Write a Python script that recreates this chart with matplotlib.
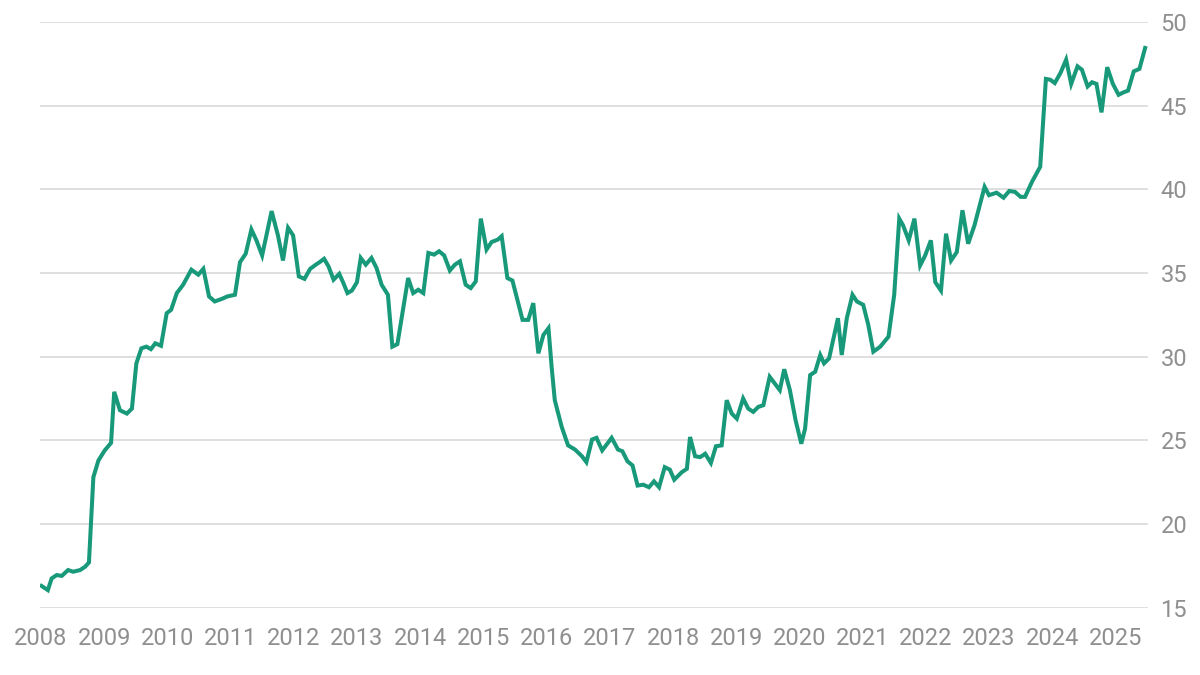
import matplotlib
matplotlib.use("Agg")
import matplotlib.pyplot as plt

# Data (decimal year, value)
years = [
    2008.01, 2008.11, 2008.17, 2008.25, 2008.33, 2008.43, 2008.51, 2008.62, 2008.70, 2008.76,
    2008.83, 2008.91, 2009.01, 2009.11, 2009.16, 2009.25, 2009.36, 2009.44, 2009.51, 2009.59,
    2009.67, 2009.74, 2009.81, 2009.90, 2009.99, 2010.06, 2010.15, 2010.25, 2010.38, 2010.49,
    2010.57, 2010.66, 2010.75, 2010.86, 2010.95, 2011.07, 2011.15, 2011.24, 2011.33, 2011.41,
    2011.50, 2011.65, 2011.75, 2011.83, 2011.91, 2011.99, 2012.08, 2012.17, 2012.26, 2012.35,
    2012.41, 2012.48, 2012.55, 2012.63, 2012.72, 2012.78, 2012.85, 2012.92, 2013.00, 2013.06,
    2013.14, 2013.23, 2013.31, 2013.39, 2013.49, 2013.56, 2013.64, 2013.81, 2013.89, 2013.97,
    2014.05, 2014.13, 2014.22, 2014.30, 2014.38, 2014.47, 2014.55, 2014.63, 2014.72, 2014.80,
    2014.88, 2014.96, 2015.05, 2015.13, 2015.23, 2015.29, 2015.38, 2015.46, 2015.62, 2015.71,
    2015.79, 2015.87, 2015.95, 2016.03, 2016.08, 2016.13, 2016.24, 2016.34, 2016.45, 2016.56,
    2016.63, 2016.72, 2016.79, 2016.88, 2017.03, 2017.13, 2017.20, 2017.28, 2017.36, 2017.44,
    2017.53, 2017.62, 2017.70, 2017.78, 2017.87, 2017.95, 2018.02, 2018.14, 2018.22, 2018.27,
    2018.35, 2018.43, 2018.51, 2018.60, 2018.68, 2018.77, 2018.85, 2018.93, 2019.01, 2019.11,
    2019.19, 2019.27, 2019.35, 2019.43, 2019.53, 2019.61, 2019.69, 2019.76, 2019.85, 2019.94,
    2020.03, 2020.09, 2020.17, 2020.25, 2020.33, 2020.39, 2020.47, 2020.61, 2020.67, 2020.75,
    2020.84, 2020.91, 2021.01, 2021.09, 2021.17, 2021.28, 2021.41, 2021.50, 2021.58, 2021.64,
    2021.73, 2021.82, 2021.91, 2021.99, 2022.08, 2022.15, 2022.24, 2022.32, 2022.40, 2022.49,
    2022.58, 2022.67, 2022.77, 2022.84, 2022.93, 2023.00, 2023.12, 2023.23, 2023.32, 2023.41,
    2023.50, 2023.57, 2023.68, 2023.81, 2023.90, 2023.97, 2024.04, 2024.13, 2024.22, 2024.30,
    2024.40, 2024.47, 2024.56, 2024.63, 2024.70, 2024.78, 2024.87, 2024.96, 2025.05, 2025.13,
    2025.20, 2025.29, 2025.38, 2025.47,
]
values = [
    16.3, 16.05, 16.75, 16.95, 16.9, 17.25, 17.15, 17.25, 17.45, 17.7,
    22.8, 23.8, 24.4, 24.85, 27.9, 26.8, 26.6, 26.9, 29.6, 30.5,
    30.6, 30.45, 30.8, 30.65, 32.6, 32.8, 33.8, 34.3, 35.2, 34.9,
    35.25, 33.6, 33.3, 33.45, 33.6, 33.7, 35.65, 36.15, 37.6, 36.95,
    36.05, 38.7, 37.25, 35.75, 37.7, 37.25, 34.8, 34.65, 35.25, 35.5,
    35.65, 35.85, 35.4, 34.6, 34.95, 34.45, 33.8, 33.95, 34.45, 35.9,
    35.5, 35.9, 35.3, 34.3, 33.7, 30.6, 30.75, 34.7, 33.8, 34.0,
    33.8, 36.2, 36.1, 36.3, 36.05, 35.15, 35.5, 35.7, 34.3, 34.1,
    34.5, 38.25, 36.4, 36.85, 37.0, 37.2, 34.7, 34.55, 32.2, 32.2,
    33.2, 30.2, 31.3, 31.7, 29.4, 27.4, 25.8, 24.7, 24.45, 24.05,
    23.7, 25.05, 25.15, 24.4, 25.15, 24.45, 24.35, 23.75, 23.5, 22.3,
    22.35, 22.2, 22.55, 22.2, 23.4, 23.25, 22.65, 23.1, 23.3, 25.2,
    24.05, 24.0, 24.2, 23.65, 24.65, 24.7, 27.4, 26.6, 26.3, 27.5,
    26.9, 26.7, 27.0, 27.1, 28.8, 28.4, 28.0, 29.25, 28.0, 26.2,
    24.8, 25.7, 28.9, 29.1, 30.1, 29.6, 29.9, 32.3, 30.1, 32.3,
    33.7, 33.3, 33.1, 31.9, 30.3, 30.6, 31.2, 33.7, 38.25, 37.85,
    36.95, 38.25, 35.45, 36.05, 36.95, 34.45, 33.95, 37.35, 35.75, 36.25,
    38.75, 36.75, 37.85, 38.85, 40.15, 39.65, 39.8, 39.5, 39.9, 39.85,
    39.55, 39.55, 40.45, 41.35, 46.6, 46.55, 46.35, 46.95, 47.75, 46.3,
    47.35, 47.15, 46.15, 46.4, 46.3, 44.6, 47.3, 46.3, 45.65, 45.8,
    45.9, 47.05, 47.2, 48.45,
]
year_ticks = list(range(2008, 2026))
value_ticks = [15, 20, 25, 30, 35, 40, 45, 50]

plt.rcParams['font.family'] = ['Roboto', 'DejaVu Sans']

fig = plt.figure(figsize=(12, 6.75), dpi=100)
ax = fig.add_axes([0.0333, 0.0997, 0.9234, 0.8677])

ax.plot(years, values, color='#17997a', linewidth=2.9, solid_joinstyle='miter')

ax.set_xlim(2007.985, 2025.516)
ax.set_ylim(15, 50)
ax.set_xticks(year_ticks)
ax.set_xticklabels([str(y) for y in year_ticks])
ax.set_yticks(value_ticks)

ax.yaxis.tick_right()
ax.grid(axis='y', color='#d6d6d6', linewidth=1.1)
ax.set_axisbelow(True)
for s in ax.spines.values():
    s.set_visible(False)
ax.tick_params(axis='both', length=0, colors='#8f8f8f', labelsize=17)
ax.tick_params(axis='x', pad=14)
ax.tick_params(axis='y', pad=9)

fig.savefig('out.png', dpi=100, facecolor='white')
